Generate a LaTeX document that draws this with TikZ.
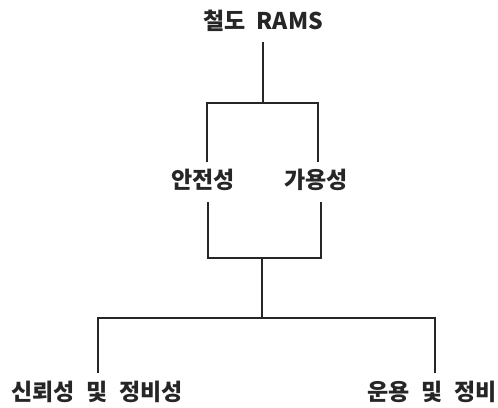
\documentclass[tikz,border=0pt]{standalone}
\usepackage{fontspec}
\setmainfont{Noto Sans CJK KR}[WordSpace=2.2]
\begin{document}
\begin{tikzpicture}[x=1pt,y=-1pt,
  lbl/.style={inner sep=0pt, font=\fontsize{23}{27}\selectfont\bfseries, text=black!85},
  wire/.style={line width=2.8pt, draw=black!85, line cap=butt, line join=miter}]
\useasboundingbox (0,0) rectangle (498,407);
\node[lbl] (t) at (263,21) {철도 RAMS};
\node[lbl] (s) at (203,180) {안전성};
\node[lbl] (v) at (316,180) {가용성};
\node[lbl] (r) at (97,392) {신뢰성 및 정비성};
\node[lbl] (o) at (432,392) {운용 및 정비};
\coordinate (tb) at (263,42);
\coordinate (j1) at (263,103);
\coordinate (sa) at (207,162);
\coordinate (va) at (318,162);
\coordinate (sb) at (208,202);
\coordinate (vb) at (321,202);
\coordinate (j2) at (262,258);
\coordinate (j3) at (262,318);
\coordinate (ra) at (98,373);
\coordinate (oa) at (435,373);
\draw[wire] (tb) -- (j1);
\draw[wire] (sa) |- (j1) -| (va);
\draw[wire] (sb) |- (j2) -| (vb);
\draw[wire] (j2) -- (j3);
\draw[wire] (ra) |- (j3) -| (oa);
\end{tikzpicture}
\end{document}
